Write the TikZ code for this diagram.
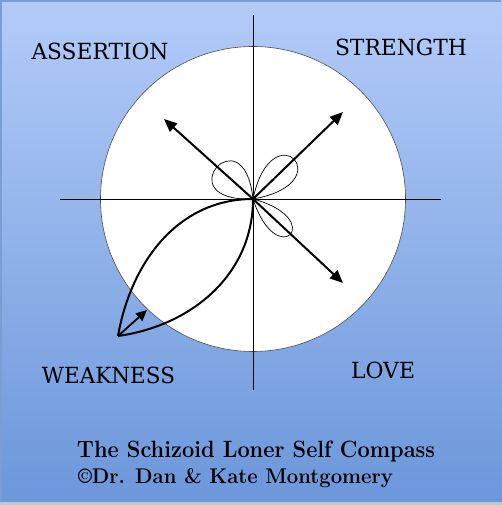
\documentclass[tikz,border=0pt]{standalone}
\usepackage{fontspec}
\usepackage{graphicx}
\newfontfamily\schf{DejaVu Serif}
\usetikzlibrary{arrows.meta,calc}
\definecolor{bgtop}{HTML}{B3CBF9}
\definecolor{bgbot}{HTML}{6C97DA}
\definecolor{bgedge}{HTML}{7A9DD4}
\definecolor{shadowgray}{HTML}{C4C6CA}
\newcommand{\fitwh}[3]{\resizebox{#1}{#2}{#3}}
\tikzset{
  axis/.style={line width=0.9pt, black},
  bigarrow/.style={line width=2pt, -{Triangle[length=13pt,width=11pt]}},
  smallarrow/.style={line width=1.8pt, -{Triangle[length=11pt,width=10pt]}},
  petal/.style={line width=0.7pt},
  lens/.style={line width=2pt},
  lmlabel/.style={font=\schf\fontsize{20}{24}\selectfont, anchor=base, inner sep=0pt},
  title/.style={font=\bfseries\fontsize{22}{26}\selectfont, anchor=base, inner sep=0pt}
}
\begin{document}
\begin{tikzpicture}[x=1pt,y=1pt]
\useasboundingbox (0,0) rectangle (502,505);
\fill[shadowgray] (0,0) rectangle (502,4);
\shade[top color=bgtop, bottom color=bgbot] (0,3) rectangle (502,505);
\draw[bgedge, line width=2pt] (1,4) -- (1,504) -- (501,504);
% circle
\coordinate (O) at (253,306);
\node[circle, draw=black!70, line width=0.6pt, fill=white, minimum size=305pt, inner sep=0pt] (C) at (O) {};
% axes
\coordinate (hl) at (60,306);
\coordinate (hr) at (441,306);
\coordinate (vt) at (253,490);
\coordinate (vb) at (253,115);
\draw[axis] (hl) -- (hr);
\draw[axis] (vt) -- (vb);
% petals
\draw[petal] (O) .. controls ($(O)+(182:88)$) and ($(O)+(96:88)$) .. (O);
\draw[petal] (O) .. controls ($(O)+(78:92)$) and ($(O)+(10:92)$) .. (O);
\draw[petal] (O) .. controls ($(O)+(-15:78)$) and ($(O)+(-72:78)$) .. (O);
% arrows
\coordinate (nw) at (164,386);
\coordinate (ne) at (343,393);
\coordinate (se) at (343,222);
\draw[bigarrow] (O) -- (nw);
\draw[bigarrow] (O) -- (ne);
\draw[bigarrow] (O) -- (se);
% lens
\coordinate (P) at (118,169);
\coordinate (Q) at (147,195);
\draw[lens] (O) to[out=180,in=80] (P);
\draw[lens] (O) to[out=270,in=8] (P);
\draw[smallarrow] (P) -- (Q);
% labels
\node[lmlabel] (assert) at (100,445) {\fitwh{137pt}{16.5pt}{ASSERTION}};
\node[lmlabel] (strength) at (401,449) {\fitwh{132pt}{16.5pt}{STRENGTH}};
\node[lmlabel] (weak) at (108.5,121.7) {\fitwh{133pt}{16.5pt}{WEAKNESS}};
\node[lmlabel] (love) at (383,126) {\fitwh{64pt}{16.5pt}{LOVE}};
\node[title] (t1) at (256,47.3) {\fitwh{358pt}{16.5pt}{The Schizoid Loner Self Compass}};
\node[title] (t2) at (235.5,21) {\fitwh{315pt}{15pt}{©Dr. Dan \& Kate Montgomery}};
\end{tikzpicture}
\end{document}
